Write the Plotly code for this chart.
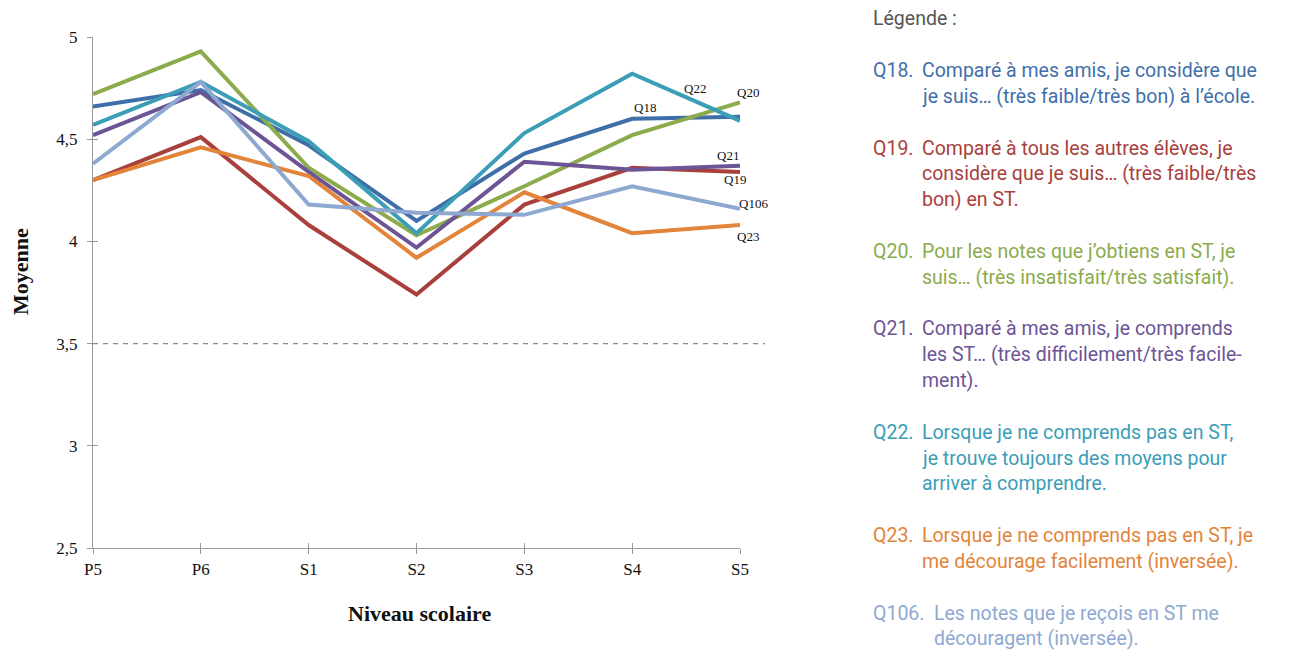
import plotly.graph_objects as go

niveaux = ["P5", "P6", "S1", "S2", "S3", "S4", "S5"]

q18 = [4.66, 4.74, 4.47, 4.10, 4.43, 4.60, 4.61]
q19 = [4.30, 4.51, 4.08, 3.74, 4.18, 4.36, 4.34]
q20 = [4.72, 4.93, 4.36, 4.03, 4.27, 4.52, 4.68]
q21 = [4.52, 4.73, 4.34, 3.97, 4.39, 4.35, 4.37]
q22 = [4.57, 4.78, 4.49, 4.04, 4.53, 4.82, 4.59]
q23 = [4.30, 4.46, 4.32, 3.92, 4.24, 4.04, 4.08]
q106 = [4.38, 4.78, 4.18, 4.14, 4.13, 4.27, 4.16]

y_ticks = [2.5, 3, 3.5, 4, 4.5, 5]
seuil = 3.5

series = [
    ("Q18", q18, "#3f6fa9", (-95, 9)),
    ("Q19", q19, "#a9403c", (-5, -8)),
    ("Q20", q20, "#8bab4c", (8, 10)),
    ("Q21", q21, "#6d5495", (-12, 10)),
    ("Q22", q22, "#3b9db6", (-45, 32)),
    ("Q23", q23, "#e2843a", (8, -11)),
    ("Q106", q106, "#8ea9d1", (13, 5)),
]

legende = [
    ("Q18.", "#3f6fa9", ["Comparé à mes amis, je considère que",
                         "je suis… (très faible/très bon) à l’école."]),
    ("Q19.", "#a9403c", ["Comparé à tous les autres élèves, je",
                         "considère que je suis… (très faible/très",
                         "bon) en ST."]),
    ("Q20.", "#8bab4c", ["Pour les notes que j’obtiens en ST, je",
                         "suis… (très insatisfait/très satisfait)."]),
    ("Q21.", "#6d5495", ["Comparé à mes amis, je comprends",
                         "les ST… (très difficilement/très facile-",
                         "ment)."]),
    ("Q22.", "#3b9db6", ["Lorsque je ne comprends pas en ST,",
                         "je trouve toujours des moyens pour",
                         "arriver à comprendre."]),
    ("Q23.", "#e2843a", ["Lorsque je ne comprends pas en ST, je",
                         "me décourage facilement (inversée)."]),
    ("Q106.", "#8ea9d1", ["Les notes que je reçois en ST me",
                          "découragent (inversée)."]),
]

# plot area in page pixels; the page adds an 8px body margin
L, R, T, B = 93, 740, 37, 548
OFF = 8


def px(x):
    return (x - L) / (R - L)


def py(y):
    return (B - y) / (B - T)


serif = "Liberation Serif, Times New Roman, serif"
sans = "Roboto, Noto Sans, sans-serif"

fig = go.Figure()
for name, vals, col, _ in series:
    fig.add_trace(go.Scatter(x=niveaux, y=vals, mode="lines", name=name,
                             line=dict(color=col, width=4)))
# empty trace so the crossing tick axes get drawn
fig.add_trace(go.Scatter(x=[], y=[], xaxis="x2", yaxis="y2", showlegend=False))

ann = []
for name, vals, col, (dx, dy) in series:
    ann.append(dict(x=niveaux[-1], y=vals[-1], text=name, showarrow=False,
                    xshift=dx, yshift=dy, font=dict(family=serif, size=13, color="#111")))

ann.append(dict(x=px(20), y=py(272), xref="paper", yref="paper", text="<b>Moyenne</b>",
                xanchor="center", yanchor="middle",
                textangle=-90, showarrow=False, font=dict(family=serif, size=22, color="#111")))
ann.append(dict(x=px(419), y=py(614), xref="paper", yref="paper", text="<b>Niveau scolaire</b>",
                xanchor="center", yanchor="middle",
                showarrow=False, font=dict(family=serif, size=22, color="#111")))

step = 25.83
fs = 19.5
ann.append(dict(x=px(871), y=py(19), xref="paper", yref="paper", text="Légende :",
                xanchor="left", yanchor="middle", showarrow=False,
                font=dict(family=sans, size=fs, color="#555")))
i = 2
for code, col, lines in legende:
    ann.append(dict(x=px(871), y=py(19 + step * i), xref="paper", yref="paper", text=code,
                    xanchor="left", yanchor="middle", showarrow=False,
                    font=dict(family=sans, size=fs, color=col)))
    indent = 920 if code != "Q106." else 932
    for ln in lines:
        ann.append(dict(x=px(indent), y=py(19 + step * i), xref="paper", yref="paper", text=ln,
                        xanchor="left", yanchor="middle", showarrow=False,
                        font=dict(family=sans, size=fs, color=col)))
        i += 1
    i += 1

fig.update_layout(
    width=1296, height=650,
    margin=dict(l=L - OFF, r=1296 - R + OFF, t=T - OFF, b=650 - B + OFF),
    paper_bgcolor="white", plot_bgcolor="white",
    showlegend=False,
    separators=", ",
    annotations=ann,
    shapes=[dict(type="line", xref="paper", yref="y", x0=0, x1=px(765), y0=seuil, y1=seuil,
                 line=dict(color="#888", width=1.3, dash="5px,5px"))],
    xaxis=dict(type="category", range=[0, len(niveaux) - 1], showgrid=False,
               showline=True, linecolor="#999", linewidth=1.3, ticks="outside", ticklen=5,
               tickcolor="#999", tickfont=dict(family=serif, size=17, color="#111")),
    yaxis=dict(range=[2.5, 5], tickvals=y_ticks, showgrid=False, zeroline=False,
               showline=True, linecolor="#999", linewidth=1.3, ticks="outside", ticklen=5,
               tickcolor="#999", ticklabelstandoff=6,
               tickfont=dict(family=serif, size=17, color="#111")),
    xaxis2=dict(type="category", overlaying="x", matches="x", showticklabels=False,
                ticks="inside", ticklen=5, tickcolor="#999", showgrid=False, showline=False),
    yaxis2=dict(overlaying="y", matches="y", tickvals=y_ticks, showticklabels=False,
                ticks="inside", ticklen=5, tickcolor="#999", showgrid=False,
                zeroline=False, showline=False),
)
fig.update_xaxes(categoryorder="array", categoryarray=niveaux)

fig.write_html("out.html")
